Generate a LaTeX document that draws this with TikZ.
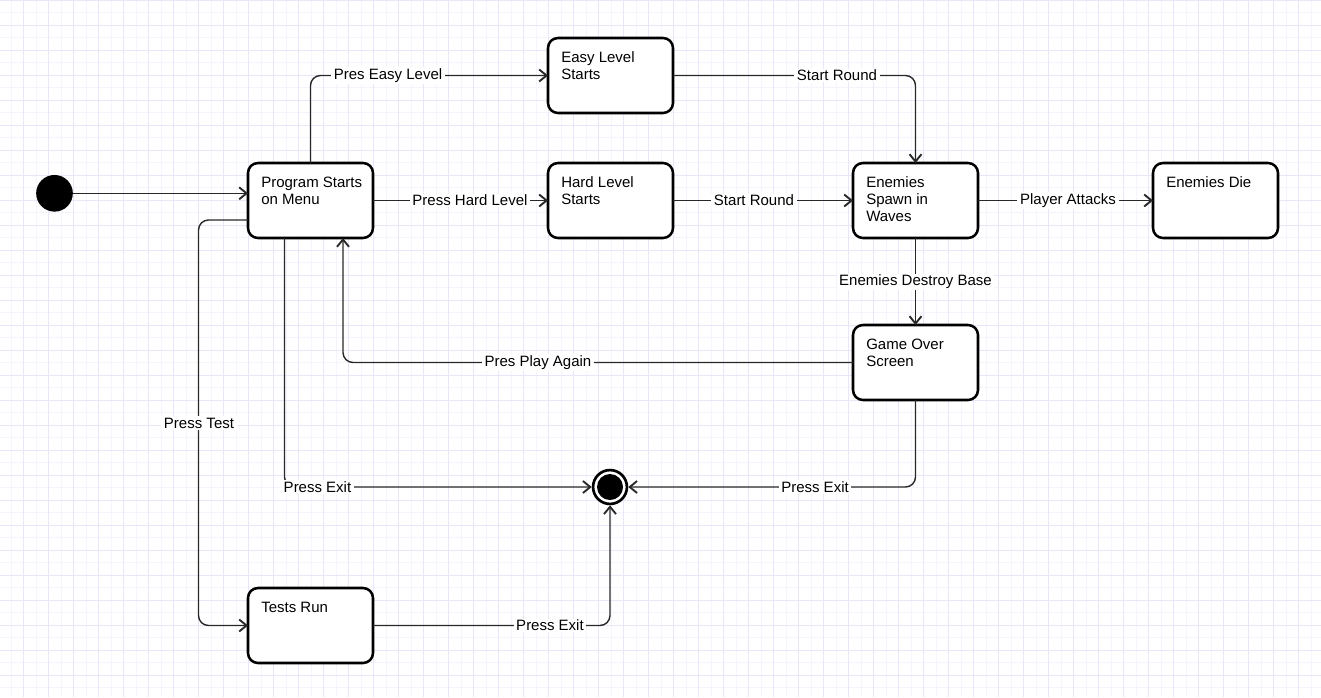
\documentclass[tikz,border=0pt]{standalone}
\usepackage{fontspec}
\setmainfont{Liberation Sans}
\usetikzlibrary{arrows.meta,calc}
\definecolor{gridlight}{RGB}{244,244,252}
\definecolor{griddark}{RGB}{231,231,249}
\definecolor{edgec}{RGB}{40,40,40}
\tikzset{
  statebox/.style={draw=black, line width=1.9pt, rounded corners=7.5pt, fill=white,
    minimum width=93.75pt, minimum height=56.25pt, inner sep=0pt, outer sep=0pt},
  stext/.style={anchor=north west, inner sep=0pt, align=left,
    font=\fontsize{11.25pt}{12.75pt}\selectfont},
  lbl/.style={fill=white, inner xsep=2pt, inner ysep=1pt,
    font=\fontsize{11.25pt}{13pt}\selectfont},
  conn/.style={draw=edgec, line width=1.05pt, rounded corners=7.5pt,
    -{Straight Barb[length=5.5pt,width=9pt,line width=1.4pt]}},
}
\begin{document}
\begin{tikzpicture}[x=0.75pt,y=-0.75pt]
\useasboundingbox (0,0) rectangle (1321,697);
\fill[white] (0,0) rectangle (1321,697);
\begin{scope}
\clip (0,0) rectangle (1321,697);
\foreach \i in {0,...,53} {
  \draw[gridlight, line width=0.75pt] ({11+25*\i},0) -- ({11+25*\i},697);
}
\foreach \i in {0,...,28} {
  \draw[gridlight, line width=0.75pt] (0,{12.5+25*\i}) -- (1321,{12.5+25*\i});
}
\foreach \i in {0,...,53} {
  \draw[griddark, line width=0.75pt] ({23.5+25*\i},0) -- ({23.5+25*\i},697);
}
\foreach \i in {0,...,28} {
  \draw[griddark, line width=0.75pt] (0,{25*\i}) -- (1321,{25*\i});
}
\end{scope}

% states
\node[circle, fill=black, minimum size=27.5pt, inner sep=0pt] (init) at (54.5,193.3) {};
\node[statebox] (prog) at (310.5,200.5) {};
\node[stext] (progt) at ($(prog.north west)+(13,13.5)$) {Program Starts\\on Menu};
\node[statebox] (easy) at (610.5,75.5) {};
\node[stext] (easyt) at ($(easy.north west)+(13,13.5)$) {Easy Level\\Starts};
\node[statebox] (hard) at (610.5,200.5) {};
\node[stext] (hardt) at ($(hard.north west)+(13,13.5)$) {Hard Level\\Starts};
\node[statebox] (spawn) at (915.5,200.5) {};
\node[stext] (spawnt) at ($(spawn.north west)+(13,13.5)$) {Enemies\\Spawn in\\Waves};
\node[statebox] (die) at (1215.5,200.5) {};
\node[stext] (diet) at ($(die.north west)+(13,13.5)$) {Enemies Die};
\node[statebox] (over) at (915.5,362.5) {};
\node[stext] (overt) at ($(over.north west)+(13,13.5)$) {Game Over\\Screen};
\node[statebox] (tests) at (310.5,625.5) {};
\node[stext] (testst) at ($(tests.north west)+(13,13.5)$) {Tests Run};
\node[circle, draw=black, line width=2pt, fill=white, minimum size=25.4pt, inner sep=0pt, outer sep=1pt] (final) at (610,487) {};
\node[circle, fill=black, minimum size=19.5pt, inner sep=0pt] (finaldot) at (final.center) {};

% connectors
\draw[conn] (init.east) -- (init.east -| prog.west);
\draw[conn] (prog.north) |- (easy.west);
\draw[conn] (prog.east) -- (hard.west);
\draw[conn] (easy.east) -| (spawn.north);
\draw[conn] (hard.east) -- (spawn.west);
\draw[conn] (spawn.east) -- (die.west);
\draw[conn] (spawn.south) -- (over.north);
\draw[conn] (over.west) -| ($(prog.south)+(32.5,0)$);
\draw[conn] ($(prog.west)+(0,19.5)$) -| ($(tests.west)+(-49.5,0)$) -- (tests.west);
\draw[conn] ($(prog.south)+(-26,0)$) |- (final.west);
\draw[conn] (over.south) |- (final.east);
\draw[conn] (tests.east) -| (final.south);

% labels
\node[lbl] (l1) at (388,75.5) {Pres Easy Level};
\node[lbl] (l2) at (470,200.5) {Press Hard Level};
\node[lbl] (l3) at (837,75.5) {Start Round};
\node[lbl] (l4) at (754,200.5) {Start Round};
\node[lbl] (l5) at (1068,200.5) {Player Attacks};
\node[lbl] (l6) at (915.5,282) {Enemies Destroy Base};
\node[lbl] (l7) at (538,362.5) {Pres Play Again};
\node[lbl] (l8) at (199,423) {Press Test};
\node[lbl] (l9) at (317.5,487) {Press Exit};
\node[lbl] (l10) at (815,487) {Press Exit};
\node[lbl] (l11) at (550,625.5) {Press Exit};
\end{tikzpicture}
\end{document}
